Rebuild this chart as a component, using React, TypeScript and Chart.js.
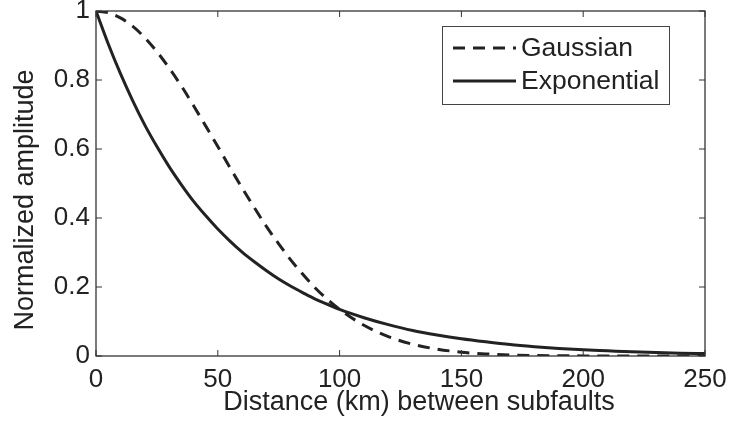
import React, { useEffect, useRef } from "react";
import { Chart, registerables } from "chart.js";

Chart.register(...registerables);

// ---- Data ----
const distanceKm = [0, 5, 10, 15, 20, 25, 30, 35, 40, 45, 50, 55, 60, 65, 70, 75, 80, 85, 90, 95, 100, 110, 120, 130, 140, 150, 160, 170, 180, 190, 200, 210, 220, 230, 240, 250];
const gaussian = [1.0, 0.995, 0.98, 0.956, 0.923, 0.882, 0.835, 0.783, 0.726, 0.667, 0.607, 0.546, 0.487, 0.43, 0.375, 0.325, 0.278, 0.236, 0.197, 0.164, 0.135, 0.089, 0.056, 0.034, 0.02, 0.011, 0.006, 0.003, 0.0015, 0.0007, 0.0003, 0.0001, 0, 0, 0, 0];
const exponential = [1.0, 0.905, 0.819, 0.741, 0.67, 0.607, 0.549, 0.497, 0.449, 0.407, 0.368, 0.333, 0.301, 0.273, 0.247, 0.223, 0.202, 0.183, 0.165, 0.15, 0.135, 0.111, 0.091, 0.074, 0.061, 0.05, 0.041, 0.033, 0.027, 0.022, 0.018, 0.015, 0.012, 0.01, 0.008, 0.007];
const xTicks = [0, 50, 100, 150, 200, 250];
const yTicks = [0, 0.2, 0.4, 0.6, 0.8, 1];
const yTickLabels = ["0", "0.2", "0.4", "0.6", "0.8", "1"];
const seriesLabels = ["Gaussian", "Exponential"];
const xTitle = "Distance (km) between subfaults";
const yTitle = "Normalized amplitude";

const FONT = '"Liberation Sans", Arial, Helvetica, sans-serif';
const INK = "#222222";

const decorPlugin = {
  id: "decor",
  afterDraw(chart: any) {
    const ctx = chart.ctx;
    const { left, right, top, bottom } = chart.chartArea;
    const xs = chart.scales.x;
    const ys = chart.scales.y;
    ctx.save();
    // box
    ctx.strokeStyle = "#333333";
    ctx.lineWidth = 1.3;
    ctx.setLineDash([]);
    ctx.strokeRect(left, top, right - left, bottom - top);
    // inward ticks
    const tl = 6;
    ctx.beginPath();
    xTicks.forEach((v) => {
      const px = xs.getPixelForValue(v);
      ctx.moveTo(px, bottom);
      ctx.lineTo(px, bottom - tl);
      ctx.moveTo(px, top);
      ctx.lineTo(px, top + tl);
    });
    yTicks.forEach((v) => {
      const py = ys.getPixelForValue(v);
      ctx.moveTo(left, py);
      ctx.lineTo(left + tl, py);
      ctx.moveTo(right, py);
      ctx.lineTo(right - tl, py);
    });
    ctx.lineWidth = 1;
    ctx.stroke();

    // axis titles
    ctx.fillStyle = INK;
    ctx.font = `27px ${FONT}`;
    ctx.textAlign = "center";
    ctx.textBaseline = "alphabetic";
    ctx.fillText(xTitle, 419, 410);
    ctx.save();
    ctx.translate(33, 200);
    ctx.rotate(-Math.PI / 2);
    ctx.fillText(yTitle, 0, 0);
    ctx.restore();

    // legend
    const bx = 442.5, by = 26.5, bw = 227, bh = 78;
    ctx.fillStyle = "#ffffff";
    ctx.fillRect(bx, by, bw, bh);
    ctx.strokeStyle = "#444444";
    ctx.lineWidth = 1;
    ctx.strokeRect(bx, by, bw, bh);
    const rows = [48, 81];
    chart.data.datasets.forEach((ds: any, i: number) => {
      const y = rows[i];
      ctx.beginPath();
      ctx.strokeStyle = ds.borderColor;
      ctx.lineWidth = ds.borderWidth;
      ctx.setLineDash(ds.borderDash || []);
      ctx.moveTo(453, y);
      ctx.lineTo(516, y);
      ctx.stroke();
      ctx.setLineDash([]);
      ctx.fillStyle = INK;
      ctx.font = `26.5px ${FONT}`;
      ctx.textAlign = "left";
      ctx.textBaseline = "middle";
      ctx.fillText(ds.label, 521, y + 1);
    });
    ctx.restore();
  },
};

export default function App() {
  const ref = useRef<HTMLCanvasElement | null>(null);
  useEffect(() => {
    if (!ref.current) return;
    const chart = new Chart(ref.current, {
      type: "line",
      data: {
        datasets: [
          {
            label: seriesLabels[0],
            data: distanceKm.map((d, i) => ({ x: d, y: gaussian[i] })),
            borderColor: INK,
            borderWidth: 3,
            borderDash: [12, 8],
            pointRadius: 0,
            fill: false,
            cubicInterpolationMode: "monotone",
          },
          {
            label: seriesLabels[1],
            data: distanceKm.map((d, i) => ({ x: d, y: exponential[i] })),
            borderColor: INK,
            borderWidth: 3,
            pointRadius: 0,
            fill: false,
            cubicInterpolationMode: "monotone",
          },
        ],
      },
      options: {
        responsive: false,
        animation: false,
        layout: { padding: { top: 11, right: 24, left: 0, bottom: 0 } },
        plugins: { legend: { display: false }, tooltip: { enabled: false } },
        scales: {
          x: {
            type: "linear",
            min: 0,
            max: 250,
            grid: { drawOnChartArea: false, drawTicks: false },
            border: { display: false },
            ticks: {
              padding: 8,
              color: INK,
              font: { family: FONT, size: 26 },
              maxRotation: 0,
              callback: (v: any) => String(v),
            },
            afterBuildTicks: (s: any) => {
              s.ticks = xTicks.map((v) => ({ value: v }));
            },
            afterFit: (s: any) => {
              s.height = 67;
              s.paddingLeft = 0;
              s.paddingRight = 0;
            },
          },
          y: {
            type: "linear",
            min: 0,
            max: 1,
            grid: { drawOnChartArea: false, drawTicks: false },
            border: { display: false },
            ticks: {
              padding: 6,
              color: INK,
              font: { family: FONT, size: 26 },
              callback: (v: any) => {
                const idx = yTicks.findIndex((t) => Math.abs(t - v) < 1e-6);
                return idx >= 0 ? yTickLabels[idx] : "";
              },
            },
            afterBuildTicks: (s: any) => {
              s.ticks = yTicks.map((v) => ({ value: v }));
            },
            afterFit: (s: any) => {
              s.width = 96;
              s.paddingTop = 0;
              s.paddingBottom = 0;
            },
          },
        },
      },
      plugins: [decorPlugin],
    });
    return () => chart.destroy();
  }, []);
  return (
    <div style={{ position: "absolute", left: 0, top: 0, width: 729, height: 423, background: "#fff" }}>
      <canvas ref={ref} width={729} height={423} />
    </div>
  );
}
